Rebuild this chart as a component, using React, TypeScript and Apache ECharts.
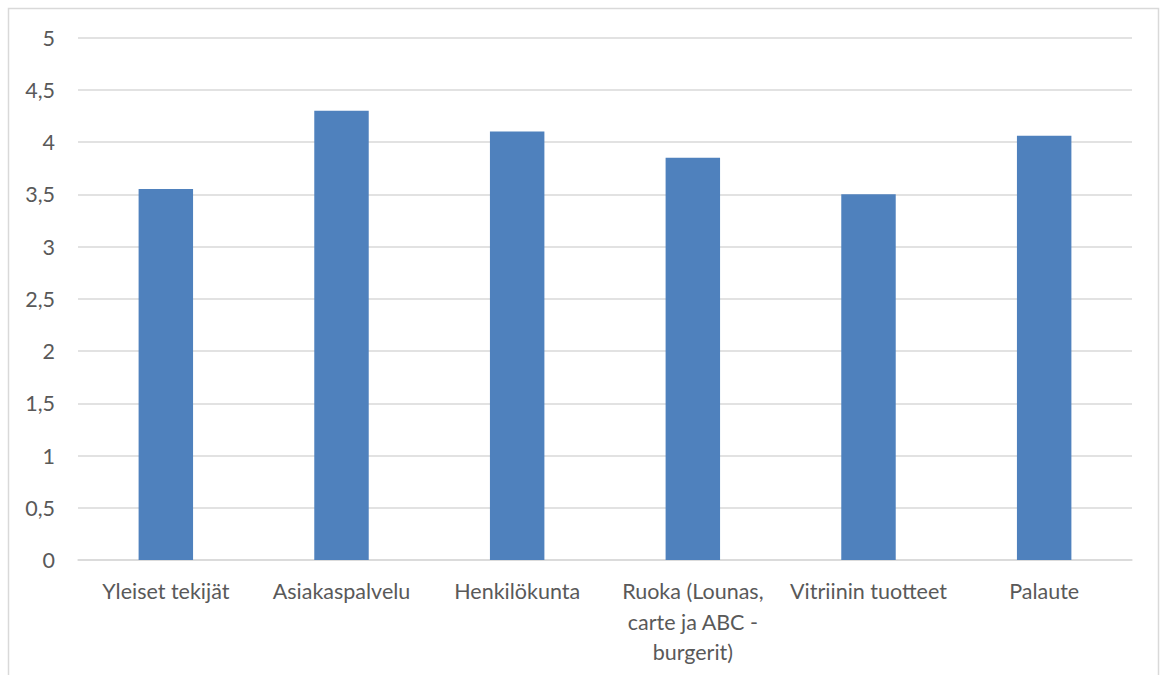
import React, { useEffect, useRef } from "react";
import * as echarts from "echarts";

const categories = [
  "Yleiset tekijät",
  "Asiakaspalvelu",
  "Henkilökunta",
  "Ruoka (Lounas,\ncarte ja ABC -\nburgerit)",
  "Vitriinin tuotteet",
  "Palaute",
];
const values = [3.55, 4.3, 4.1, 3.85, 3.5, 4.06];
const yTicks = { min: 0, max: 5, interval: 0.5 };

export default function App() {
  const ref = useRef<HTMLDivElement>(null);
  useEffect(() => {
    document.body.style.margin = "0";
    const chart = echarts.init(ref.current!, null, { renderer: "svg" });
    const font = "Lato, 'Open Sans', sans-serif";
    chart.setOption({
      animation: false,
      backgroundColor: "#ffffff",
      graphic: [
        {
          type: "rect",
          shape: { x: 8.5, y: 8.5, width: 1150, height: 700 },
          style: { fill: "none", stroke: "#d9d9d9", lineWidth: 1.5 },
          silent: true,
        },
      ],
      grid: { left: 78, right: 28, top: 37.5, bottom: 115, containLabel: false },
      xAxis: {
        type: "category",
        data: categories,
        axisLine: { lineStyle: { color: "#d9d9d9", width: 1.5 } },
        axisTick: { show: false },
        axisLabel: {
          color: "#595959",
          fontFamily: font,
          fontSize: 21.5,
          lineHeight: 30.5,
          margin: 16,
          interval: 0,
        },
      },
      yAxis: {
        type: "value",
        min: yTicks.min,
        max: yTicks.max,
        interval: yTicks.interval,
        axisLine: { show: false },
        axisTick: { show: false },
        splitLine: { lineStyle: { color: "#d9d9d9", width: 1.5 } },
        axisLabel: {
          color: "#595959",
          fontFamily: font,
          fontSize: 21.5,
          margin: 23,
          formatter: (v: number) => String(v).replace(".", ","),
        },
      },
      series: [
        {
          type: "bar",
          data: values,
          barWidth: "31%",
          itemStyle: { color: "#4f81bd" },
        },
      ],
    });
    return () => chart.dispose();
  }, []);
  return <div ref={ref} style={{ width: 1160, height: 675 }} />;
}
